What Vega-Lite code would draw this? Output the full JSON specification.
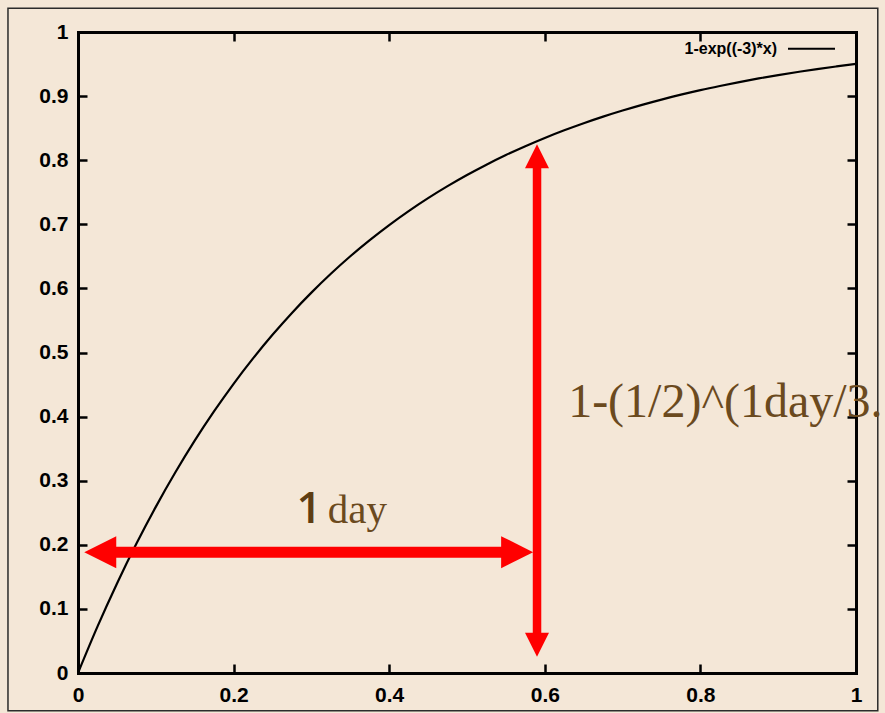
{
  "$schema": "https://vega.github.io/schema/vega-lite/v6.json",
  "width": 778,
  "height": 641,
  "autosize": {"type": "none"},
  "padding": {"left": 78, "top": 32, "right": 29, "bottom": 40},
  "background": "#f4e7d7",
  "config": {
    "view": {"stroke": null},
    "axis": {
      "title": null,
      "grid": false,
      "zindex": 1,
      "domainColor": "black",
      "domainWidth": 3,
      "domainCap": "square",
      "tickColor": "black",
      "tickWidth": 2.5,
      "tickSize": -9,
      "labelFont": "Liberation Sans",
      "labelFontWeight": "bold",
      "labelFontSize": 21,
      "labelColor": "black",
      "labelFlush": false,
      "labelOverlap": false,
      "format": "~g"
    }
  },
  "datasets": {
    "curve": [
      {"x": 0, "y": 0}, {"x": 0.025, "y": 0.0723}, {"x": 0.05, "y": 0.1393}, {"x": 0.075, "y": 0.2015},
      {"x": 0.1, "y": 0.2592}, {"x": 0.125, "y": 0.3127}, {"x": 0.15, "y": 0.3624}, {"x": 0.175, "y": 0.4084},
      {"x": 0.2, "y": 0.4512}, {"x": 0.225, "y": 0.4908}, {"x": 0.25, "y": 0.5276}, {"x": 0.275, "y": 0.5618},
      {"x": 0.3, "y": 0.5934}, {"x": 0.325, "y": 0.6228}, {"x": 0.35, "y": 0.6501}, {"x": 0.375, "y": 0.6753},
      {"x": 0.4, "y": 0.6988}, {"x": 0.425, "y": 0.7206}, {"x": 0.45, "y": 0.7408}, {"x": 0.475, "y": 0.7595},
      {"x": 0.5, "y": 0.7769}, {"x": 0.525, "y": 0.793}, {"x": 0.55, "y": 0.808}, {"x": 0.575, "y": 0.8218},
      {"x": 0.6, "y": 0.8347}, {"x": 0.625, "y": 0.8466}, {"x": 0.65, "y": 0.8577}, {"x": 0.675, "y": 0.868},
      {"x": 0.7, "y": 0.8775}, {"x": 0.725, "y": 0.8864}, {"x": 0.75, "y": 0.8946}, {"x": 0.775, "y": 0.9022},
      {"x": 0.8, "y": 0.9093}, {"x": 0.825, "y": 0.9158}, {"x": 0.85, "y": 0.9219}, {"x": 0.875, "y": 0.9276},
      {"x": 0.9, "y": 0.9328}, {"x": 0.925, "y": 0.9376}, {"x": 0.95, "y": 0.9422}, {"x": 0.975, "y": 0.9463},
      {"x": 1, "y": 0.9502}
    ],
    "frame": [{"x": -0.09, "x2": 1.028, "y": -0.059, "y2": 1.037}],
    "hArrow": [{"x": 0.008, "x2": 0.585, "y": 0.1885}],
    "vArrow": [{"x": 0.59, "y": 0.0254, "y2": 0.825}],
    "legend": [{"x": 0.8985, "xa": 0.9126, "xb": 0.973, "y": 0.974, "text": "1-exp((-3)*x)"}]
  },
  "layer": [
    {
      "data": {"name": "frame"},
      "mark": {"type": "rect", "fill": null, "stroke": "#2b2b2b", "strokeWidth": 1.5, "clip": false},
      "encoding": {
        "x": {"field": "x", "type": "quantitative", "scale": {"domain": [0, 1], "nice": false}, "axis": null},
        "x2": {"field": "x2"},
        "y": {"field": "y", "type": "quantitative", "scale": {"domain": [0, 1], "nice": false}, "axis": null},
        "y2": {"field": "y2"}
      }
    },
    {
      "data": {"name": "curve"},
      "mark": {"type": "line", "color": "black", "strokeWidth": 2.2, "interpolate": "monotone"},
      "encoding": {
        "x": {"field": "x", "type": "quantitative", "scale": {"domain": [0, 1], "nice": false},
              "axis": {"orient": "bottom", "values": [0, 0.2, 0.4, 0.6, 0.8, 1], "labelPadding": 20}},
        "y": {"field": "y", "type": "quantitative", "scale": {"domain": [0, 1], "nice": false},
              "axis": {"orient": "left", "values": [0, 0.1, 0.2, 0.3, 0.4, 0.5, 0.6, 0.7, 0.8, 0.9, 1], "labelPadding": 19}}
      }
    },
    {
      "data": {"name": "legend"},
      "mark": {"type": "rule", "color": "black", "strokeWidth": 2},
      "encoding": {
        "x": {"field": "xa", "type": "quantitative", "scale": {"domain": [0, 1], "nice": false},
              "axis": {"orient": "top", "values": [0, 0.2, 0.4, 0.6, 0.8, 1], "labels": false}},
        "x2": {"field": "xb"},
        "y": {"field": "y", "type": "quantitative", "scale": {"domain": [0, 1], "nice": false},
              "axis": {"orient": "right", "values": [0, 0.1, 0.2, 0.3, 0.4, 0.5, 0.6, 0.7, 0.8, 0.9, 1], "labels": false}}
      }
    },
    {
      "data": {"name": "legend"},
      "mark": {"type": "text", "align": "right", "baseline": "middle", "font": "Liberation Sans", "fontWeight": "bold", "fontSize": 16, "color": "black"},
      "encoding": {
        "x": {"field": "x", "type": "quantitative", "scale": {"domain": [0, 1], "nice": false}, "axis": null},
        "y": {"field": "y", "type": "quantitative", "scale": {"domain": [0, 1], "nice": false}, "axis": null},
        "text": {"field": "text"}
      }
    },
    {
      "data": {"name": "hArrow"},
      "mark": {"type": "rule", "color": "#ff0000", "strokeWidth": 11, "xOffset": 16, "x2Offset": -16},
      "encoding": {
        "x": {"field": "x", "type": "quantitative", "scale": {"domain": [0, 1], "nice": false}, "axis": null},
        "x2": {"field": "x2"},
        "y": {"field": "y", "type": "quantitative", "scale": {"domain": [0, 1], "nice": false}, "axis": null}
      }
    },
    {
      "data": {"name": "hArrow"},
      "mark": {"type": "point", "filled": true, "color": "#ff0000", "opacity": 1, "size": 1024, "shape": "M0,0L2,-1L2,1Z"},
      "encoding": {
        "x": {"field": "x", "type": "quantitative", "scale": {"domain": [0, 1], "nice": false}, "axis": null},
        "y": {"field": "y", "type": "quantitative", "scale": {"domain": [0, 1], "nice": false}, "axis": null}
      }
    },
    {
      "data": {"name": "hArrow"},
      "mark": {"type": "point", "filled": true, "color": "#ff0000", "opacity": 1, "size": 1024, "shape": "M0,0L-2,-1L-2,1Z"},
      "encoding": {
        "x": {"field": "x2", "type": "quantitative", "scale": {"domain": [0, 1], "nice": false}, "axis": null},
        "y": {"field": "y", "type": "quantitative", "scale": {"domain": [0, 1], "nice": false}, "axis": null}
      }
    },
    {
      "data": {"name": "vArrow"},
      "mark": {"type": "rule", "color": "#ff0000", "strokeWidth": 8.5, "yOffset": -12, "y2Offset": 12},
      "encoding": {
        "x": {"field": "x", "type": "quantitative", "scale": {"domain": [0, 1], "nice": false}, "axis": null},
        "y": {"field": "y", "type": "quantitative", "scale": {"domain": [0, 1], "nice": false}, "axis": null},
        "y2": {"field": "y2"}
      }
    },
    {
      "data": {"name": "vArrow"},
      "mark": {"type": "point", "filled": true, "color": "#ff0000", "opacity": 1, "size": 576, "shape": "M0,0L-1,-2L1,-2Z"},
      "encoding": {
        "x": {"field": "x", "type": "quantitative", "scale": {"domain": [0, 1], "nice": false}, "axis": null},
        "y": {"field": "y", "type": "quantitative", "scale": {"domain": [0, 1], "nice": false}, "axis": null}
      }
    },
    {
      "data": {"name": "vArrow"},
      "mark": {"type": "point", "filled": true, "color": "#ff0000", "opacity": 1, "size": 576, "shape": "M0,0L-1,2L1,2Z"},
      "encoding": {
        "x": {"field": "x", "type": "quantitative", "scale": {"domain": [0, 1], "nice": false}, "axis": null},
        "y": {"field": "y2", "type": "quantitative", "scale": {"domain": [0, 1], "nice": false}, "axis": null}
      }
    },
    {
      "data": {"values": [{"x": 0.2969, "y": 0.2345, "text": "1"}]},
      "mark": {"type": "text", "align": "center", "baseline": "alphabetic", "font": "Open Sans", "fontWeight": 600, "fontSize": 44, "color": "#5e3d12"},
      "encoding": {
        "x": {"field": "x", "type": "quantitative", "scale": {"domain": [0, 1], "nice": false}, "axis": null},
        "y": {"field": "y", "type": "quantitative", "scale": {"domain": [0, 1], "nice": false}, "axis": null},
        "text": {"field": "text"}
      }
    },
    {
      "data": {"values": [{"x": 0.321, "y": 0.2345, "text": "day"}]},
      "mark": {"type": "text", "align": "left", "baseline": "alphabetic", "font": "Liberation Serif", "fontSize": 41, "color": "#6b4a1e"},
      "encoding": {
        "x": {"field": "x", "type": "quantitative", "scale": {"domain": [0, 1], "nice": false}, "axis": null},
        "y": {"field": "y", "type": "quantitative", "scale": {"domain": [0, 1], "nice": false}, "axis": null},
        "text": {"field": "text"}
      }
    },
    {
      "data": {"values": [{"x": 0.63, "y": 0.4, "text": "1-(1/2)^(1day/3."}]},
      "mark": {"type": "text", "align": "left", "baseline": "alphabetic", "font": "Liberation Serif", "fontSize": 48, "color": "#6b4a1e"},
      "encoding": {
        "x": {"field": "x", "type": "quantitative", "scale": {"domain": [0, 1], "nice": false}, "axis": null},
        "y": {"field": "y", "type": "quantitative", "scale": {"domain": [0, 1], "nice": false}, "axis": null},
        "text": {"field": "text"}
      }
    }
  ],
  "resolve": {"axis": {"x": "independent", "y": "independent"}}
}
